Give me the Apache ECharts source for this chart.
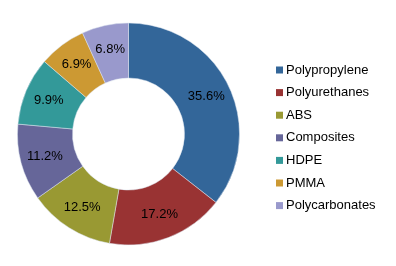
<!DOCTYPE html>
<html><head><meta charset="utf-8">
<script src="https://cdn.jsdelivr.net/npm/echarts@6/dist/echarts.min.js"></script>
<style>html,body{margin:0;padding:0;background:#fff}#c{width:396px;height:266px}</style>
</head><body><div id="c"></div>
<script>
const categories = ["Polypropylene","Polyurethanes","ABS","Composites","HDPE","PMMA","Polycarbonates"];
const values = [35.6, 17.2, 12.5, 11.2, 9.9, 6.9, 6.8];
const colors = ["#336699","#993333","#999933","#666699","#339999","#cc9933","#9999cc"];
const chart = echarts.init(document.getElementById('c'), null, {renderer:'canvas'});
chart.setOption({
  animation:false,
  color: colors,
  textStyle:{fontFamily:'Liberation Sans, Arial, sans-serif'},
  legend:{
    orient:'vertical', left:271, top:58,
    icon:'rect', itemWidth:7, itemHeight:7, itemGap:8.6,
    itemStyle:{borderWidth:0},
    textStyle:{fontSize:13, color:'#000', fontFamily:'Liberation Sans, Arial, sans-serif', lineHeight:14, padding:[0,0,0,-2]},
    data: categories
  },
  series:[{
    type:'pie', center:[128.5,134], radius:[56,111], startAngle:90, clockwise:true,
    avoidLabelOverlap:false,
    itemStyle:{borderColor:'#dde4ee', borderWidth:0.5},
    label:{show:true, position:'inside', formatter: p => p.value.toFixed(1)+'%', color:'#000', fontSize:13, fontFamily:'Liberation Sans, Arial, sans-serif'},
    labelLine:{show:false},
    emphasis:{disabled:true},
    data: categories.map((n,i)=>({name:n, value:values[i]}))
  }]
});
</script></body></html>
